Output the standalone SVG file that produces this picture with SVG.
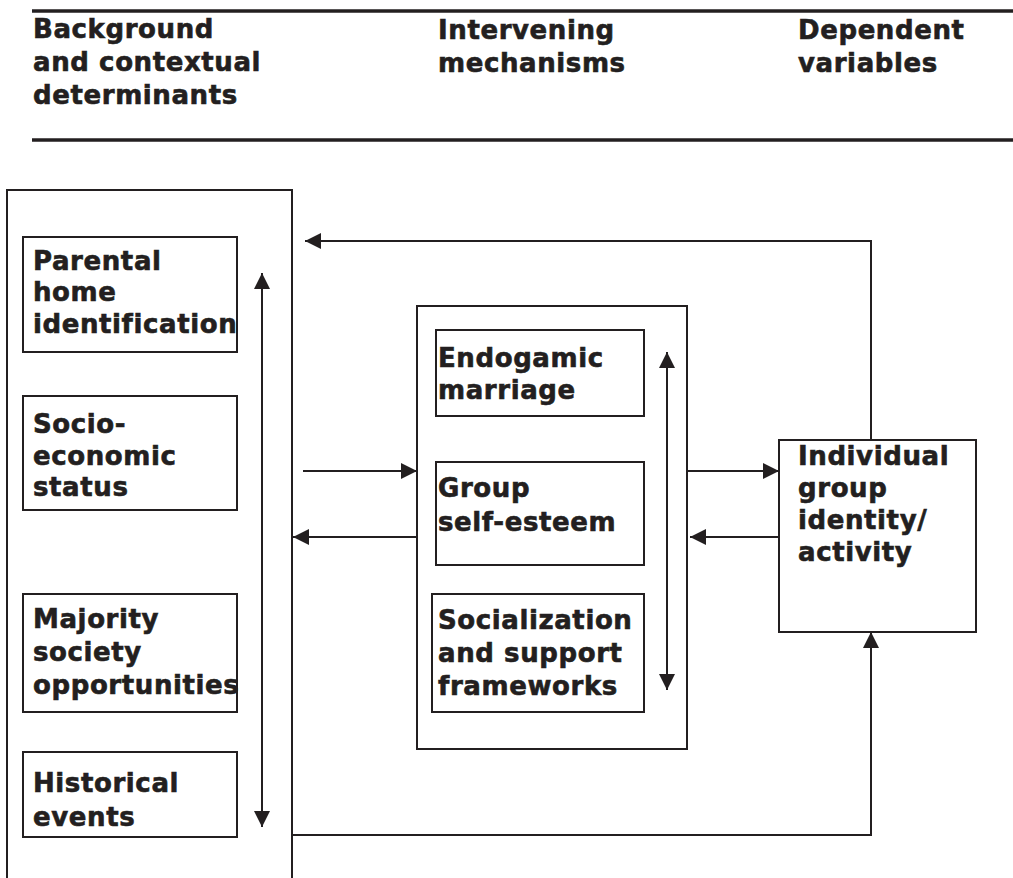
<svg xmlns="http://www.w3.org/2000/svg" width="1013" height="878" viewBox="0 0 1013 878">
<style>
text{font-family:"DejaVu Sans","Verdana",sans-serif;font-weight:bold;font-size:26px;letter-spacing:0.6px;fill:#231f20;stroke:#231f20;stroke-width:0.6px}
.box{fill:none;stroke:#231f20;stroke-width:2}
.hdr{stroke:#231f20;stroke-width:3.5}
.con{fill:none;stroke:#231f20;stroke-width:2}
</style>
<defs>
<marker id="ah" viewBox="0 0 16 16" refX="16" refY="8" markerWidth="16" markerHeight="16" markerUnits="userSpaceOnUse" orient="auto-start-reverse">
<path d="M0,0 L16,8 L0,16 z" fill="#231f20"/>
</marker>
</defs>
<rect width="1013" height="878" fill="#fff"/>
<g id="header">
<line class="hdr" x1="32" y1="11" x2="1013" y2="11"/>
<line class="hdr" x1="32" y1="140" x2="1013" y2="140"/>
<text x="33" y="38">Background<tspan x="33" y="71">and contextual</tspan><tspan x="33" y="104">determinants</tspan></text>
<text x="438" y="39">Intervening<tspan x="438" y="72">mechanisms</tspan></text>
<text x="798" y="39">Dependent<tspan x="798" y="72">variables</tspan></text>
</g>
<g id="background-box"><rect class="box" x="7" y="190" width="285" height="700"/></g>
<g id="parental"><rect class="box" x="23" y="237" width="214" height="115"/>
<text x="33" y="270">Parental<tspan x="33" y="301">home</tspan><tspan x="33" y="333">identification</tspan></text></g>
<g id="socio"><rect class="box" x="23" y="396" width="214" height="114"/>
<text x="33" y="433">Socio-<tspan x="33" y="465">economic</tspan><tspan x="33" y="496">status</tspan></text></g>
<g id="majority"><rect class="box" x="23" y="594" width="214" height="118"/>
<text x="33" y="628">Majority<tspan x="33" y="661">society</tspan><tspan x="33" y="694">opportunities</tspan></text></g>
<g id="historical"><rect class="box" x="23" y="752" width="214" height="85"/>
<text x="33" y="792">Historical<tspan x="33" y="826">events</tspan></text></g>
<g id="intervening-box"><rect class="box" x="417" y="306" width="270" height="443"/></g>
<g id="endogamic"><rect class="box" x="436" y="330" width="208" height="86"/>
<text x="438" y="367">Endogamic<tspan x="438" y="399">marriage</tspan></text></g>
<g id="group"><rect class="box" x="436" y="462" width="208" height="103"/>
<text x="438" y="497">Group<tspan x="438" y="531">self-esteem</tspan></text></g>
<g id="socialization"><rect class="box" x="432" y="594" width="212" height="118"/>
<text x="438" y="629">Socialization<tspan x="438" y="662">and support</tspan><tspan x="438" y="695">frameworks</tspan></text></g>
<g id="individual"><rect class="box" x="779" y="440" width="197" height="192"/>
<text x="798" y="465">Individual<tspan x="798" y="497">group</tspan><tspan x="798" y="529">identity/</tspan><tspan x="798" y="561">activity</tspan></text></g>
<g id="connectors">
<line class="con" x1="262" y1="273" x2="262" y2="827" marker-start="url(#ah)" marker-end="url(#ah)"/>
<line class="con" x1="667" y1="352" x2="667" y2="690" marker-start="url(#ah)" marker-end="url(#ah)"/>
<line class="con" x1="303" y1="471" x2="417" y2="471" marker-end="url(#ah)"/>
<line class="con" x1="417" y1="537" x2="293" y2="537" marker-end="url(#ah)"/>
<line class="con" x1="687" y1="471" x2="779" y2="471" marker-end="url(#ah)"/>
<line class="con" x1="779" y1="537" x2="690" y2="537" marker-end="url(#ah)"/>
<path class="con" d="M871,440 V241 H305" marker-end="url(#ah)"/>
<path class="con" d="M292,835 H871 V632" marker-end="url(#ah)"/>
</g>
</svg>
